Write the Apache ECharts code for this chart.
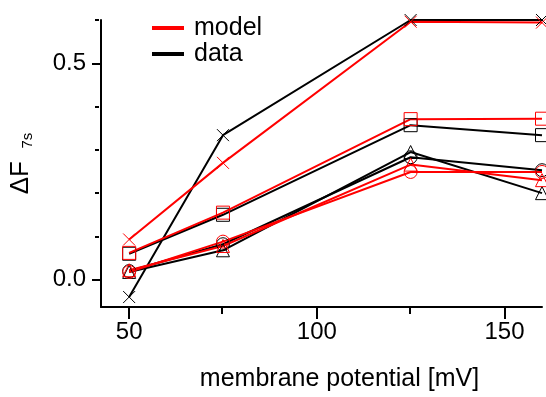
<!DOCTYPE html>
<html>
<head>
<meta charset="utf-8">
<script src="https://cdn.jsdelivr.net/npm/echarts@6/dist/echarts.min.js"></script>
<style>
  html, body { margin: 0; padding: 0; background: #fff; }
  #chart { width: 546px; height: 397px; }
</style>
</head>
<body>
<div id="chart"></div>
<script>
// membrane potential [mV]
const potentials = [50, 75, 125, 160];

// data (black) and model (red), one pair per marker shape
const dataCross = [-0.040, 0.334, 0.600, 0.600];
const modelCross = [0.093, 0.270, 0.596, 0.594];
const dataSquare = [0.060, 0.150, 0.357, 0.334];
const modelSquare = [0.062, 0.155, 0.371, 0.372];
const dataCircle = [0.020, 0.082, 0.283, 0.253];
const modelCircle = [0.018, 0.088, 0.249, 0.249];
const dataTriangle = [0.018, 0.068, 0.295, 0.200];
const modelTriangle = [0.022, 0.078, 0.266, 0.230];

const yMajorTicks = [0, 0.5];
const yMinorTicks = [0.1, 0.2, 0.3, 0.4, 0.6];
const xMajorTicks = [50, 100, 150];
const xMinorTicks = [75, 125];

const FONT = 'Liberation Sans';
const RED = '#ff0000';
const BLACK = '#000000';
const X_MIN = 42.5, X_MAX = 160;
const Y_MIN = -0.063, Y_MAX = 0.6;

const shapes = {
  cross: 'path://M0,0L10,10M10,0L0,10',
  square: 'rect',
  circle: 'circle',
  triangle: 'triangle'
};

function makeSeries(name, values, color, shape) {
  return {
    name: name,
    type: 'line',
    xAxisIndex: 0,
    yAxisIndex: 0,
    data: potentials.map((x, i) => [x, values[i]]),
    symbol: shapes[shape],
    symbolSize: shape === 'cross' ? 12 : 13,
    clip: false,
    lineStyle: { color: color, width: 2 },
    itemStyle: { color: 'none', borderColor: color, borderWidth: 1 },
    emphasis: { disabled: true }
  };
}

const chart = echarts.init(document.getElementById('chart'));

const gridBox = { left: 99, right: 4, top: 20, bottom: 90 };

const option = {
  animation: false,
  backgroundColor: '#fff',
  textStyle: { fontFamily: FONT },
  // second grid sits on top of the first one and only carries the minor ticks
  grid: [Object.assign({}, gridBox), Object.assign({}, gridBox)],
  legend: {
    orient: 'vertical',
    left: 147,
    top: 10,
    itemGap: 0,
    itemWidth: 30,
    itemHeight: 2,
    icon: 'rect',
    selectedMode: false,
    textStyle: { fontFamily: FONT, fontSize: 25, color: BLACK, lineHeight: 26, padding: [0, 0, 0, 6] },
    data: [
      { name: 'model', itemStyle: { color: RED } },
      { name: 'data', itemStyle: { color: BLACK } }
    ]
  },
  xAxis: [
    {
      type: 'value',
      gridIndex: 0,
      min: X_MIN,
      max: X_MAX,
      name: 'membrane potential [mV]',
      nameLocation: 'middle',
      nameGap: 60,
      nameTextStyle: { fontFamily: FONT, fontSize: 25, color: BLACK, padding: [0, 0, 0, 36] },
      axisLine: { show: true, onZero: false, lineStyle: { color: BLACK, width: 2 } },
      axisTick: { show: true, customValues: xMajorTicks, length: 12, lineStyle: { color: BLACK, width: 2 } },
      axisLabel: { customValues: xMajorTicks, fontSize: 24, color: BLACK, margin: 13, fontFamily: FONT },
      splitLine: { show: false }
    },
    {
      type: 'value',
      gridIndex: 1,
      min: X_MIN,
      max: X_MAX,
      axisLine: { show: false, onZero: false },
      axisTick: { show: true, customValues: xMinorTicks, length: 7, lineStyle: { color: BLACK, width: 2 } },
      axisLabel: { show: false },
      splitLine: { show: false }
    }
  ],
  yAxis: [
    {
      type: 'value',
      gridIndex: 0,
      min: Y_MIN,
      max: Y_MAX,
      name: '{a|ΔF}{b|   7s}',
      nameLocation: 'middle',
      nameGap: 66,
      nameRotate: 90,
      nameTextStyle: {
        color: BLACK,
        rich: {
          a: { fontFamily: FONT, fontSize: 26, color: BLACK, lineHeight: 28 },
          b: { fontFamily: FONT, fontSize: 15, color: BLACK, verticalAlign: 'bottom', lineHeight: 26 }
        }
      },
      axisLine: { show: true, onZero: false, lineStyle: { color: BLACK, width: 2 } },
      axisTick: { show: true, customValues: yMajorTicks, length: 9, lineStyle: { color: BLACK, width: 2 } },
      axisLabel: {
        customValues: yMajorTicks,
        fontSize: 24,
        color: BLACK,
        margin: 15,
        fontFamily: FONT,
        formatter: v => v.toFixed(1)
      },
      splitLine: { show: false }
    },
    {
      type: 'value',
      gridIndex: 1,
      min: Y_MIN,
      max: Y_MAX,
      axisLine: { show: false, onZero: false },
      axisTick: { show: true, customValues: yMinorTicks, length: 4, lineStyle: { color: BLACK, width: 2 } },
      axisLabel: { show: false },
      splitLine: { show: false }
    }
  ],
  series: [
    makeSeries('data', dataCross, BLACK, 'cross'),
    makeSeries('data', dataSquare, BLACK, 'square'),
    makeSeries('data', dataCircle, BLACK, 'circle'),
    makeSeries('data', dataTriangle, BLACK, 'triangle'),
    makeSeries('model', modelCross, RED, 'cross'),
    makeSeries('model', modelSquare, RED, 'square'),
    makeSeries('model', modelCircle, RED, 'circle'),
    makeSeries('model', modelTriangle, RED, 'triangle')
  ]
};

chart.setOption(option);
</script>
</body>
</html>
